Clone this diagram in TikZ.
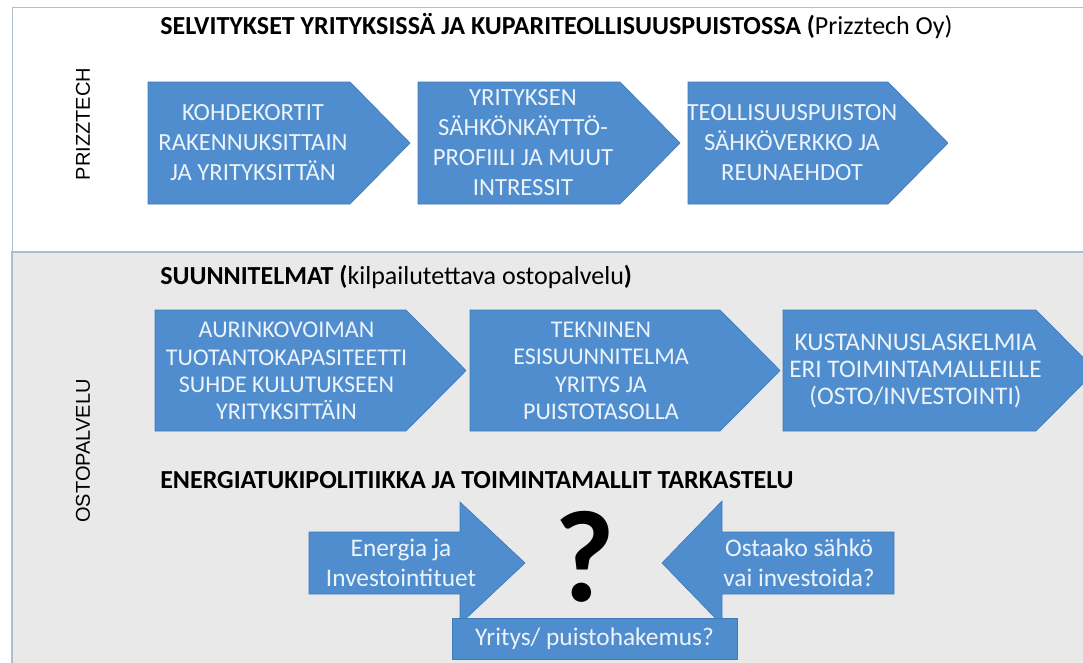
\documentclass[tikz,border=0pt]{standalone}
\usepackage{fontspec}
\setmainfont{Carlito}
\newfontfamily\sivufont{Liberation Sans}
\definecolor{lohkosin}{RGB}{79,141,206}
\definecolor{lohkoreuna}{RGB}{63,122,186}
\definecolor{lohkoteksti}{RGB}{236,243,251}
\definecolor{harmaa}{RGB}{233,233,233}
\definecolor{kehys}{RGB}{176,189,202}

\begin{document}
\begin{tikzpicture}[x=0.75pt, y=-0.75pt,
        lohko/.style={fill=lohkosin, draw=lohkoreuna, line width=0.5pt},
        teksti/.style={text=lohkoteksti, align=center, inner sep=0pt, font=\fontsize{18.5}{22.5}\selectfont},
        otsikko/.style={anchor=west, inner sep=0pt, font=\bfseries\fontsize{19.5}{22}\selectfont},
        sivu/.style={rotate=90, inner sep=0pt, font=\sivufont\fontsize{15}{18}\selectfont}
      ]
        \useasboundingbox (0,0) rectangle (1083,662);
        \clip (0,0) rectangle (1083,662);
        \fill[white] (0,0) rectangle (1083,662);

        % paneelit
        \draw[kehys, fill=white] (12,7) rectangle (1095,252);
        \draw[kehys, fill=harmaa, line width=1.2pt] (12,252) rectangle (1095,680);

        \node[sivu] (prizz) at (83,124) {PRIZZTECH};
        \node[sivu] (osto) at (83,451) {OSTOPALVELU};

        \node[otsikko] (selv) at (160,26) {SELVITYKSET YRITYKSISSÄ JA KUPARITEOLLISUUSPUISTOSSA (\mdseries Prizztech Oy)};
        \node[otsikko] (suun) at (160,277) {SUUNNITELMAT (\mdseries kilpailutettava ostopalvelu\bfseries)};
        \node[otsikko] (ener) at (160,480) {ENERGIATUKIPOLITIIKKA JA TOIMINTAMALLIT TARKASTELU};

        % selvitykset
        \foreach \xa/\xb/\nm/\txt in {148/350/kohde/{KOHDEKORTIT\\RAKENNUKSITTAIN\\JA YRITYKSITTÄN},
            418/620/profiili/{YRITYKSEN\\SÄHKÖNKÄYTTÖ-\\PROFIILI JA MUUT\\INTRESSIT},
            688/888/verkko/{TEOLLISUUSPUISTON\\SÄHKÖVERKKO JA\\REUNAEHDOT}}{
          \draw[lohko] (\xa,82) -- (\xb,82) -- ++(60,61) -- (\xb,204) -- (\xa,204) -- cycle;
          \node[teksti] (\nm) at ({(\xa+\xb)/2+4},143) {\txt};
        }

        % suunnitelmat
        \foreach \xa/\xb/\nm/\fs/\txt in {155/406/aurinko/18/{AURINKOVOIMAN\\TUOTANTOKAPASITEETTI\\SUHDE KULUTUKSEEN\\YRITYKSITTÄIN},
            470/720/tekninen/18/{TEKNINEN\\ESISUUNNITELMA\\YRITYS JA\\PUISTOTASOLLA},
            783/1036/kustannus/19/{KUSTANNUSLASKELMIA\\ERI TOIMINTAMALLEILLE\\(OSTO/INVESTOINTI)}}{
          \draw[lohko] (\xa,310) -- (\xb,310) -- ++(60,60.5) -- (\xb,431) -- (\xa,431) -- cycle;
          \node[teksti, font=\fontsize{\fs}{20.5}\selectfont] (\nm) at ({(\xa+\xb)/2+6},371) {\txt};
        }

        % energiatuki
        \draw[lohko] (309,532) -- (460,532) -- (460,502) -- (525,563) -- (460,624) -- (460,594) -- (309,594) -- cycle;
        \draw[lohko] (894,532) -- (722,532) -- (722,501) -- (662,563) -- (722,625) -- (722,594) -- (894,594) -- cycle;
        \node[teksti, font=\fontsize{19}{22.5}\selectfont] (tuet) at (401,563) {Energia ja\\Investointituet};
        \node[teksti, font=\fontsize{19}{22.5}\selectfont] (ostaako) at (799,563) {Ostaako sähkö\\vai investoida?};
        \node[inner sep=0pt, font=\bfseries\fontsize{98}{98}\selectfont] (kysymys) at (585,557) {?};
        \node[lohko, teksti, font=\fontsize{19}{22.5}\selectfont, minimum width=285*0.75pt, minimum height=41*0.75pt] (hakemus) at (594.5,638.5) {Yritys/ puistohakemus?};
      \end{tikzpicture}
\end{document}
